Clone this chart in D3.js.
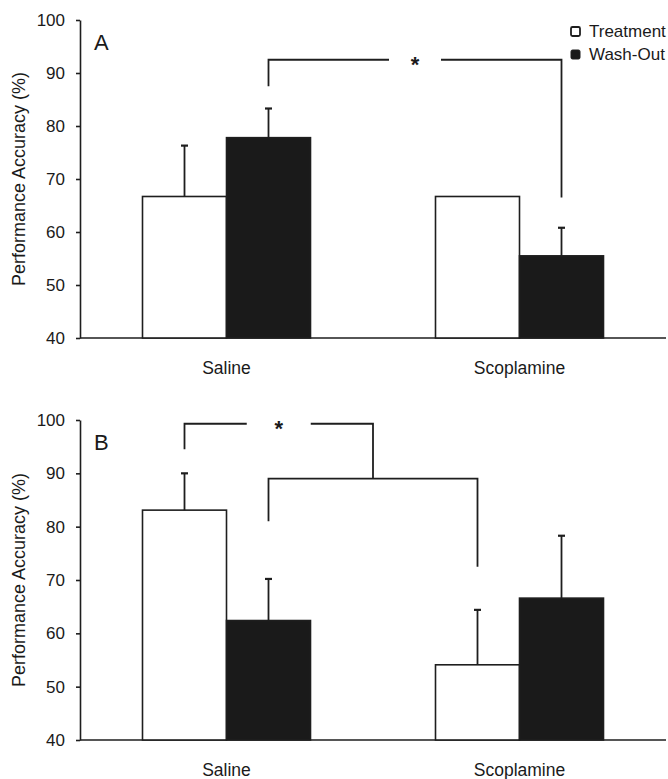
<!DOCTYPE html>
<html>
<head>
<meta charset="utf-8">
<script src="https://cdn.jsdelivr.net/npm/d3@7"></script>
<style>
  body { margin: 0; background: #fff; }
  text { font-family: "Liberation Sans", Arial, sans-serif; fill: #1a1a1a; }
</style>
</head>
<body>
<div id="target"></div>
<script>
// data
var categories = ['Saline', 'Scoplamine'];
var series = ['Treatment', 'Wash-Out'];
var yTicks = [40, 50, 60, 70, 80, 90, 100];

// panel A
var meansA = { 'Treatment': [66.7, 66.7], 'Wash-Out': [77.8, 55.5] };
var errA   = { 'Treatment': [9.6, 0],     'Wash-Out': [5.5, 5.3] };
// panel B
var meansB = { 'Treatment': [83.1, 54.1], 'Wash-Out': [62.4, 66.6] };
var errB   = { 'Treatment': [6.9, 10.3],  'Wash-Out': [7.8, 11.7] };

// significance brackets (values in % units)
var bracketsA = [
  { a: ['Saline', 'Wash-Out'], b: ['Scoplamine', 'Wash-Out'], level: 92.5, legA: 87.5, legB: 66.5, star: true }
];
var bracketsB = [
  { a: ['Saline', 'Wash-Out'], b: ['Scoplamine', 'Treatment'], level: 89, legA: 81, legB: 72.5, star: false },
  { a: ['Saline', 'Treatment'], b: 'mid0', level: 99.3, legA: 94.5, legB: 89, star: true }
];

var W = 668, H = 779;
var ink = '#1e1e1e';

var svg = d3.select('#target').append('svg')
  .attr('width', W)
  .attr('height', H);

// x scales shared by both panels
var x0 = d3.scaleBand().domain(categories).range([80, 666]);
var barW = 84;
var x1 = d3.scaleBand().domain(series)
  .range([x0.bandwidth() / 2 - barW, x0.bandwidth() / 2 + barW]);

function cx(key) { return x0(key[0]) + x1(key[1]) + x1.bandwidth() / 2; }

function panel(letter, top, bottom, means, errs, brackets) {
  var y = d3.scaleLinear().domain([40, 100]).range([bottom, top]);
  var g = svg.append('g');

  // y axis
  var ax = g.append('g')
    .attr('transform', 'translate(80,0)')
    .call(d3.axisLeft(y).tickValues(yTicks).tickSize(4).tickSizeOuter(0).tickPadding(11));
  ax.select('.domain').attr('stroke', ink).attr('stroke-width', 1.6);
  ax.selectAll('.tick line').attr('stroke', ink).attr('stroke-width', 1.6);
  ax.selectAll('.tick text')
    .attr('font-size', 17)
    .attr('font-family', '"Liberation Sans", Arial, sans-serif')
    .attr('fill', ink);

  // x baseline
  g.append('line')
    .attr('x1', 80).attr('x2', 666)
    .attr('y1', y(40)).attr('y2', y(40))
    .attr('stroke', ink).attr('stroke-width', 1.6);

  // bars
  var rows = [];
  series.forEach(function(s) {
    categories.forEach(function(c, i) {
      rows.push({ cat: c, s: s, v: means[s][i], e: errs[s][i] });
    });
  });

  g.selectAll('rect.bar').data(rows).enter().append('rect')
    .attr('class', 'bar')
    .attr('x', function(d) { return x0(d.cat) + x1(d.s); })
    .attr('width', x1.bandwidth())
    .attr('y', function(d) { return y(d.v); })
    .attr('height', function(d) { return y(40) - y(d.v); })
    .attr('fill', function(d) { return d.s === 'Treatment' ? '#fff' : '#1a1a1a'; })
    .attr('stroke', ink)
    .attr('stroke-width', 1.6);

  // error bars (upper only)
  var eb = rows.filter(function(d) { return d.e > 0; });
  g.selectAll('line.err').data(eb).enter().append('line')
    .attr('class', 'err')
    .attr('x1', function(d) { return cx([d.cat, d.s]); })
    .attr('x2', function(d) { return cx([d.cat, d.s]); })
    .attr('y1', function(d) { return y(d.v); })
    .attr('y2', function(d) { return y(d.v + d.e); })
    .attr('stroke', ink).attr('stroke-width', 1.8);
  g.selectAll('line.cap').data(eb).enter().append('line')
    .attr('class', 'cap')
    .attr('x1', function(d) { return cx([d.cat, d.s]) - 3.5; })
    .attr('x2', function(d) { return cx([d.cat, d.s]) + 3.5; })
    .attr('y1', function(d) { return y(d.v + d.e); })
    .attr('y2', function(d) { return y(d.v + d.e); })
    .attr('stroke', ink).attr('stroke-width', 2.2);

  // brackets
  var mids = [];
  brackets.forEach(function(b, i) {
    var xa = cx(b.a);
    var xb = b.b === 'mid0' ? mids[0] : cx(b.b);
    mids.push((xa + xb) / 2);
    var yl = y(b.level);
    var xm = (xa + xb) / 2;
    var gap = b.star ? (letter === 'A' ? 26 : 32) : 0;
    var path = d3.path();
    path.moveTo(xa, y(b.legA));
    path.lineTo(xa, yl);
    path.lineTo(xm - gap, yl);
    if (gap) path.moveTo(xm + gap, yl);
    path.lineTo(xb, yl);
    path.lineTo(xb, y(b.legB));
    g.append('path')
      .attr('d', path.toString())
      .attr('fill', 'none')
      .attr('stroke', ink)
      .attr('stroke-width', 1.8);
    if (b.star) {
      g.append('text')
        .attr('x', xm)
        .attr('y', yl + 12)
        .attr('text-anchor', 'middle')
        .attr('font-size', 22)
        .attr('font-weight', 'bold')
        .text('*');
    }
  });

  // panel letter
  g.append('text')
    .attr('x', 94)
    .attr('y', top + 30)
    .attr('font-size', 22)
    .text(letter);

  // category labels
  g.selectAll('text.cat').data(categories).enter().append('text')
    .attr('class', 'cat')
    .attr('x', function(d) { return x0(d) + x0.bandwidth() / 2; })
    .attr('y', bottom + 36)
    .attr('text-anchor', 'middle')
    .attr('font-size', 17.5)
    .text(function(d) { return d; });

  // y axis title
  g.append('text')
    .attr('transform', 'translate(25,' + ((top + bottom) / 2) + ') rotate(-90)')
    .attr('text-anchor', 'middle')
    .attr('font-size', 18)
    .text('Performance Accuracy (%)');

  return y;
}

panel('A', 20, 338, meansA, errA, bracketsA);
panel('B', 420, 740, meansB, errB, bracketsB);

// legend
var legend = svg.append('g');
series.forEach(function(s, i) {
  var ly = 37 + i * 23;
  legend.append('rect')
    .attr('x', 571).attr('y', ly - 10)
    .attr('width', 9).attr('height', 9)
    .attr('rx', 1.5)
    .attr('fill', s === 'Treatment' ? '#fff' : '#1a1a1a')
    .attr('stroke', ink)
    .attr('stroke-width', s === 'Treatment' ? 1.8 : 1);
  legend.append('text')
    .attr('x', 589).attr('y', ly)
    .attr('font-size', 17)
    .text(s);
});
</script>
</body>
</html>
